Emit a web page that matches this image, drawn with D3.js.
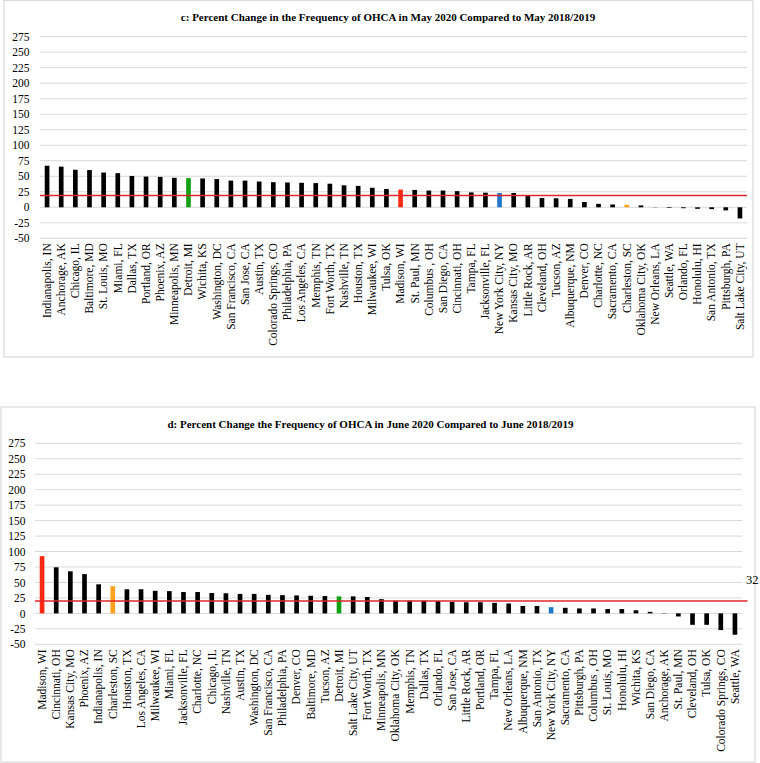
<!DOCTYPE html>
<html>
<head>
<meta charset="utf-8">
<script src="https://cdn.jsdelivr.net/npm/d3@7"></script>
<style>
  html, body { margin: 0; padding: 0; background: #fff; }
  svg { display: block; }
  text { font-family: "Liberation Serif", "Times New Roman", "DejaVu Serif", serif; fill: #000; }
</style>
</head>
<body>
<svg id="chart" width="760" height="763" font-family="Liberation Serif, serif"></svg>
<script>
// ---- Data ----
const mayCities = ["Indianapolis, IN","Anchorage, AK","Chicago, IL","Baltimore, MD","St. Louis, MO","Miami, FL","Dallas, TX","Portland, OR","Phoenix, AZ","Minneapolis, MN","Detroit, MI","Wichita, KS","Washington, DC","San Francisco, CA","San Jose, CA","Austin, TX","Colorado Springs, CO","Philadelphia, PA","Los Angeles, CA","Memphis, TN","Fort Worth, TX","Nashville, TN","Houston, TX","Milwaukee, WI","Tulsa, OK","Madison, WI","St. Paul, MN","Columbus , OH","San Diego, CA","Cincinnati, OH","Tampa, FL","Jacksonville, FL","New York City, NY","Kansas City, MO","Little Rock, AR","Cleveland, OH","Tucson, AZ","Albuquerque, NM","Denver, CO","Charlotte, NC","Sacramento, CA","Charleston, SC","Oklahoma City, OK","New Orleans, LA","Seattle, WA","Orlando, FL","Honolulu, HI","San Antonio, TX","Pittsburgh, PA","Salt Lake City, UT"];
const mayValues = [67,65.5,60.5,60,56,55,50.5,49.5,49,47.5,47,46.5,45.5,43,43,41.5,40.5,40,39.5,39,38,35.5,34.5,31.5,29.5,28.5,28,27,27,26,24,23.5,23,23,19,15,14.5,13.5,8.5,5.5,4.5,4,3,0.3,-1,-1.5,-2.5,-3,-5,-18];

const juneCities = ["Madison, WI","Cincinnati, OH","Kansas City, MO","Phoenix, AZ","Indianapolis, IN","Charleston, SC","Houston, TX","Los Angeles, CA","Milwaukee, WI","Miami, FL","Jacksonville, FL","Charlotte, NC","Chicago, IL","Nashville, TN","Austin, TX","Washington, DC","San Francisco, CA","Philadelphia, PA","Denver, CO","Baltimore, MD","Tucson, AZ","Detroit, MI","Salt Lake City, UT","Fort Worth, TX","Minneapolis, MN","Oklahoma City, OK","Memphis, TN","Dallas, TX","Orlando, FL","San Jose, CA","Little Rock, AR","Portland, OR","Tampa, FL","New Orleans, LA","Albuquerque, NM","San Antonio, TX","New York City, NY","Sacramento, CA","Pittsburgh, PA","Columbus , OH","St. Louis, MO","Honolulu, HI","Wichita, KS","San Diego, CA","Anchorage, AK","St. Paul, MN","Cleveland, OH","Tulsa, OK","Colorado Springs, CO","Seattle, WA"];
const juneValues = [92.5,74.5,68,63.5,47,44,39,39,36.5,36,34.5,34.5,33,32.5,31.5,31.5,30,29.5,29,28.5,28,27.5,27.5,26.5,23,20.5,20.5,20.5,20,18.5,18,18,17,16,12,12,10,9,8,8,7,7,5,2.5,-0.5,-5,-18.5,-18.5,-27,-34.5];

const yTicks = [-50,-25,0,25,50,75,100,125,150,175,200,225,250,275];
const mayReference = 19;
const juneReference = 20;
const juneStrayLabel = "32";

const highlight = {
  "Madison, WI": "#ff2a14",
  "Detroit, MI": "#12a012",
  "New York City, NY": "#1f78c8",
  "Charleston, SC": "#ffa31f"
};

const FONT = '"Liberation Serif", "Times New Roman", serif';
const svg = d3.select("#chart");

function drawPanel(cfg) {
  const g = svg.append("g");
  g.append("rect")
    .attr("x", cfg.frame[0]).attr("y", cfg.frame[1])
    .attr("width", cfg.frame[2]).attr("height", cfg.frame[3])
    .attr("fill", "none").attr("stroke", "#d9d9d9").attr("stroke-width", 1.2);

  const x = d3.scaleBand().domain(cfg.cities)
    .range([cfg.left, cfg.right]).paddingInner(0.67).paddingOuter(0.335);
  const y = d3.scaleLinear().domain([-50, 275]).range([cfg.bottom, cfg.top]);

  g.append("g").selectAll("line").data(yTicks).join("line")
    .attr("x1", cfg.left).attr("x2", cfg.right)
    .attr("y1", d => y(d)).attr("y2", d => y(d))
    .attr("stroke", "#d9d9d9").attr("stroke-width", 1);

  const ya = d3.axisLeft(y).tickValues(yTicks).tickSize(0).tickPadding(0)
    .tickFormat(d => String(d));
  const yg = g.append("g").attr("transform", `translate(${cfg.yLabelX},0)`).call(ya);
  yg.attr("font-family", null);
  yg.select(".domain").remove();
  yg.selectAll("text").style("font-size", "11.5px").style("font-family", FONT).attr("fill", "#000");

  const data = cfg.cities.map((c, i) => ({ c, v: cfg.values[i] }));
  g.append("g").selectAll("rect").data(data).join("rect")
    .attr("x", d => x(d.c))
    .attr("width", x.bandwidth())
    .attr("y", d => y(Math.max(0, d.v)))
    .attr("height", d => Math.abs(y(d.v) - y(0)))
    .attr("fill", d => highlight[d.c] || "#000");

  g.append("line")
    .attr("x1", cfg.left).attr("x2", cfg.refRight)
    .attr("y1", y(cfg.ref)).attr("y2", y(cfg.ref))
    .attr("stroke", "#e0262a").attr("stroke-width", 1.5);

  const xa = d3.axisBottom(x).tickSize(0).tickPadding(0);
  const xg = g.append("g").attr("transform", `translate(0,${cfg.bottom + 5})`).call(xa);
  xg.attr("font-family", null);
  xg.select(".domain").remove();
  xg.selectAll("text")
    .attr("transform", "rotate(-90)")
    .attr("x", 0).attr("y", 0).attr("dy", "0.33em")
    .attr("text-anchor", "end")
    .style("font-size", "11.5px").style("font-family", FONT).attr("fill", "#000");

  g.append("text")
    .attr("x", cfg.titleX).attr("y", cfg.titleY)
    .attr("text-anchor", "middle")
    .style("font-size", "11px").style("font-weight", "bold").style("font-family", FONT)
    .text(cfg.title);
  return { x, y, g };
}

drawPanel({
  frame: [4, 0.5, 749, 356.5],
  cities: mayCities, values: mayValues,
  left: 40, right: 747, top: 36.7, bottom: 238.3,
  yLabelX: 29.5, ref: mayReference, refRight: 747,
  title: "c: Percent Change in the Frequency of OHCA in May 2020 Compared to May 2018/2019",
  titleX: 388, titleY: 21
});

const p2 = drawPanel({
  frame: [1, 407, 754, 355],
  cities: juneCities, values: juneValues,
  left: 35, right: 742, top: 443.3, bottom: 644.3,
  yLabelX: 25.5, ref: juneReference, refRight: 747.5,
  title: "d: Percent Change the Frequency of OHCA in June 2020 Compared to June 2018/2019",
  titleX: 370.5, titleY: 428
});

p2.g.append("text")
  .attr("x", 746).attr("y", 584)
  .style("font-size", "12.5px").style("font-family", FONT)
  .text(juneStrayLabel);
</script>
</body>
</html>
